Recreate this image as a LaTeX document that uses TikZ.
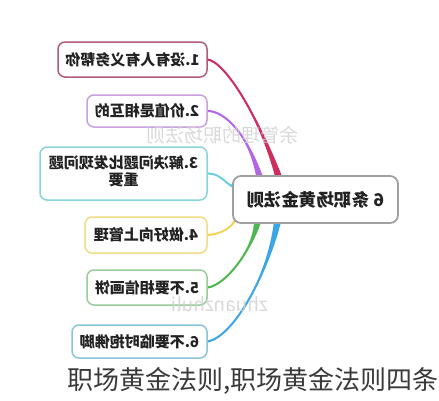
\documentclass[tikz,border=0pt]{standalone}
\usepackage{fontspec}
\setmainfont{Noto Sans CJK SC}
\usepackage{graphicx}
\usetikzlibrary{backgrounds,calc}
\definecolor{bd1}{HTML}{B05A7E}
\definecolor{bd2}{HTML}{C8A0E0}
\definecolor{bd3}{HTML}{88D4DC}
\definecolor{bd4}{HTML}{F2DC80}
\definecolor{bd5}{HTML}{98CC98}
\definecolor{bd6}{HTML}{88C4DC}
\definecolor{bdc}{HTML}{A0A0A0}
\definecolor{ln1}{HTML}{CC2E5E}
\definecolor{ln2}{HTML}{B266E6}
\definecolor{ln3}{HTML}{66D0E0}
\definecolor{ln4}{HTML}{F2D455}
\definecolor{ln5}{HTML}{4DB84D}
\definecolor{ln6}{HTML}{3AA6E6}
\definecolor{txt}{HTML}{222222}
\definecolor{captxt}{HTML}{3A3A3A}
\definecolor{wm}{HTML}{D0D0D0}
% #1 colour, #2 leaf point, #3 #4 controls, #5 end coordinate, #6 half-width vector at end, #7 base width
\newcommand\taperline[7]{%
  \fill[#1] ($#2+(0,-0.8)$) .. controls #3 and #4 .. ($#5+#6$) -- ($#5-#6$) .. controls #4 and #3 .. ($#2+(0,0.8)$) -- cycle;
  \draw[#1, line width=#7] #2 .. controls #3 and #4 .. #5;}
\begin{document}
\begin{tikzpicture}[x=1pt,y=-1pt,
  leafbox/.style={draw, fill=white, rounded corners=7pt, line width=1.5pt, inner sep=0pt,
    text=txt, font=\fontsize{15}{18}\selectfont\bfseries},
  centerbox/.style={draw=bdc, fill=white, rounded corners=8pt, line width=1.8pt, inner sep=0pt,
    text=txt, font=\fontsize{17.5}{20}\selectfont\bfseries},
  watermark/.style={text=wm, opacity=0.8, inner sep=0pt, font=\fontsize{19}{21}\selectfont}]
\useasboundingbox (0,0) rectangle (439,400);

\node[centerbox, minimum width=165pt, minimum height=47pt] (c) at (315.5,199.5)
  {\reflectbox{6 条职场黄金法则}};
\node[leafbox, draw=bd1, minimum width=149pt, minimum height=35pt] (b1) at (132.5,59.5)
  {\reflectbox{1.没有人有义务帮你}};
\node[leafbox, draw=bd2, minimum width=120pt, minimum height=32pt] (b2) at (147,111)
  {\reflectbox{2.价值是相互的}};
\node[leafbox, draw=bd3, minimum width=167pt, minimum height=53pt] (b3) at (123.5,173.5)
  {\reflectbox{\begin{tabular}{@{}c@{}}3.解决问题比发现问题\\[-1pt]重要\end{tabular}}};
\node[leafbox, draw=bd4, minimum width=122pt, minimum height=36pt] (b4) at (146,235)
  {\reflectbox{4.做好向上管理}};
\node[leafbox, draw=bd5, minimum width=120pt, minimum height=35pt] (b5) at (147,287.5)
  {\reflectbox{5.不要相信画饼}};
\node[leafbox, draw=bd6, minimum width=135pt, minimum height=33pt] (b6) at (139.5,341.5)
  {\reflectbox{6.不要临时抱佛脚}};

\coordinate (e1) at ($(c.north west)+(46,0)$);
\coordinate (e2) at ($(c.north west)+(27,0)$);
\coordinate (e3) at ($(c.west)+(0,-13.5)$);
\coordinate (e4) at ($(c.south west)+(3,-4)$);
\coordinate (e5) at ($(c.south west)+(25,0)$);
\coordinate (e6) at ($(c.south west)+(45,0)$);

\begin{pgfonlayer}{background}
  \fill[white] (0,0) rectangle (439,400);
  \taperline{ln1}{(b1.east)}{(225,62)}{(258,115)}{(e1)}{(3.4,0)}{2pt}
  \taperline{ln2}{(b2.east)}{(225,111)}{(248,135)}{(e2)}{(3.2,0)}{2pt}
  \taperline{ln3}{(b3.east)}{(220,173)}{(226,184)}{(e3)}{(0,1.6)}{1.9pt}
  \taperline{ln4}{(b4.east)}{(222,234)}{(232,227)}{(e4)}{(1.6,0)}{1.9pt}
  \taperline{ln5}{(b5.east)}{(226,285)}{(252,250)}{(e5)}{(3.2,0)}{2pt}
  \taperline{ln6}{(b6.east)}{(232,337)}{(266,280)}{(e6)}{(3.4,0)}{2pt}
\end{pgfonlayer}

\node[watermark] (w1) at (222,135) {\reflectbox{余管理的职场法则}};
\node[watermark] (w2) at (220,304) {\reflectbox{zhuanzhuli}};

\node[anchor=west, inner sep=0pt, text=captxt, font=\fontsize{26}{28}\selectfont] (cap) at (67,381)
  {职场黄金法则,职场黄金法则四条};
\end{tikzpicture}
\end{document}
